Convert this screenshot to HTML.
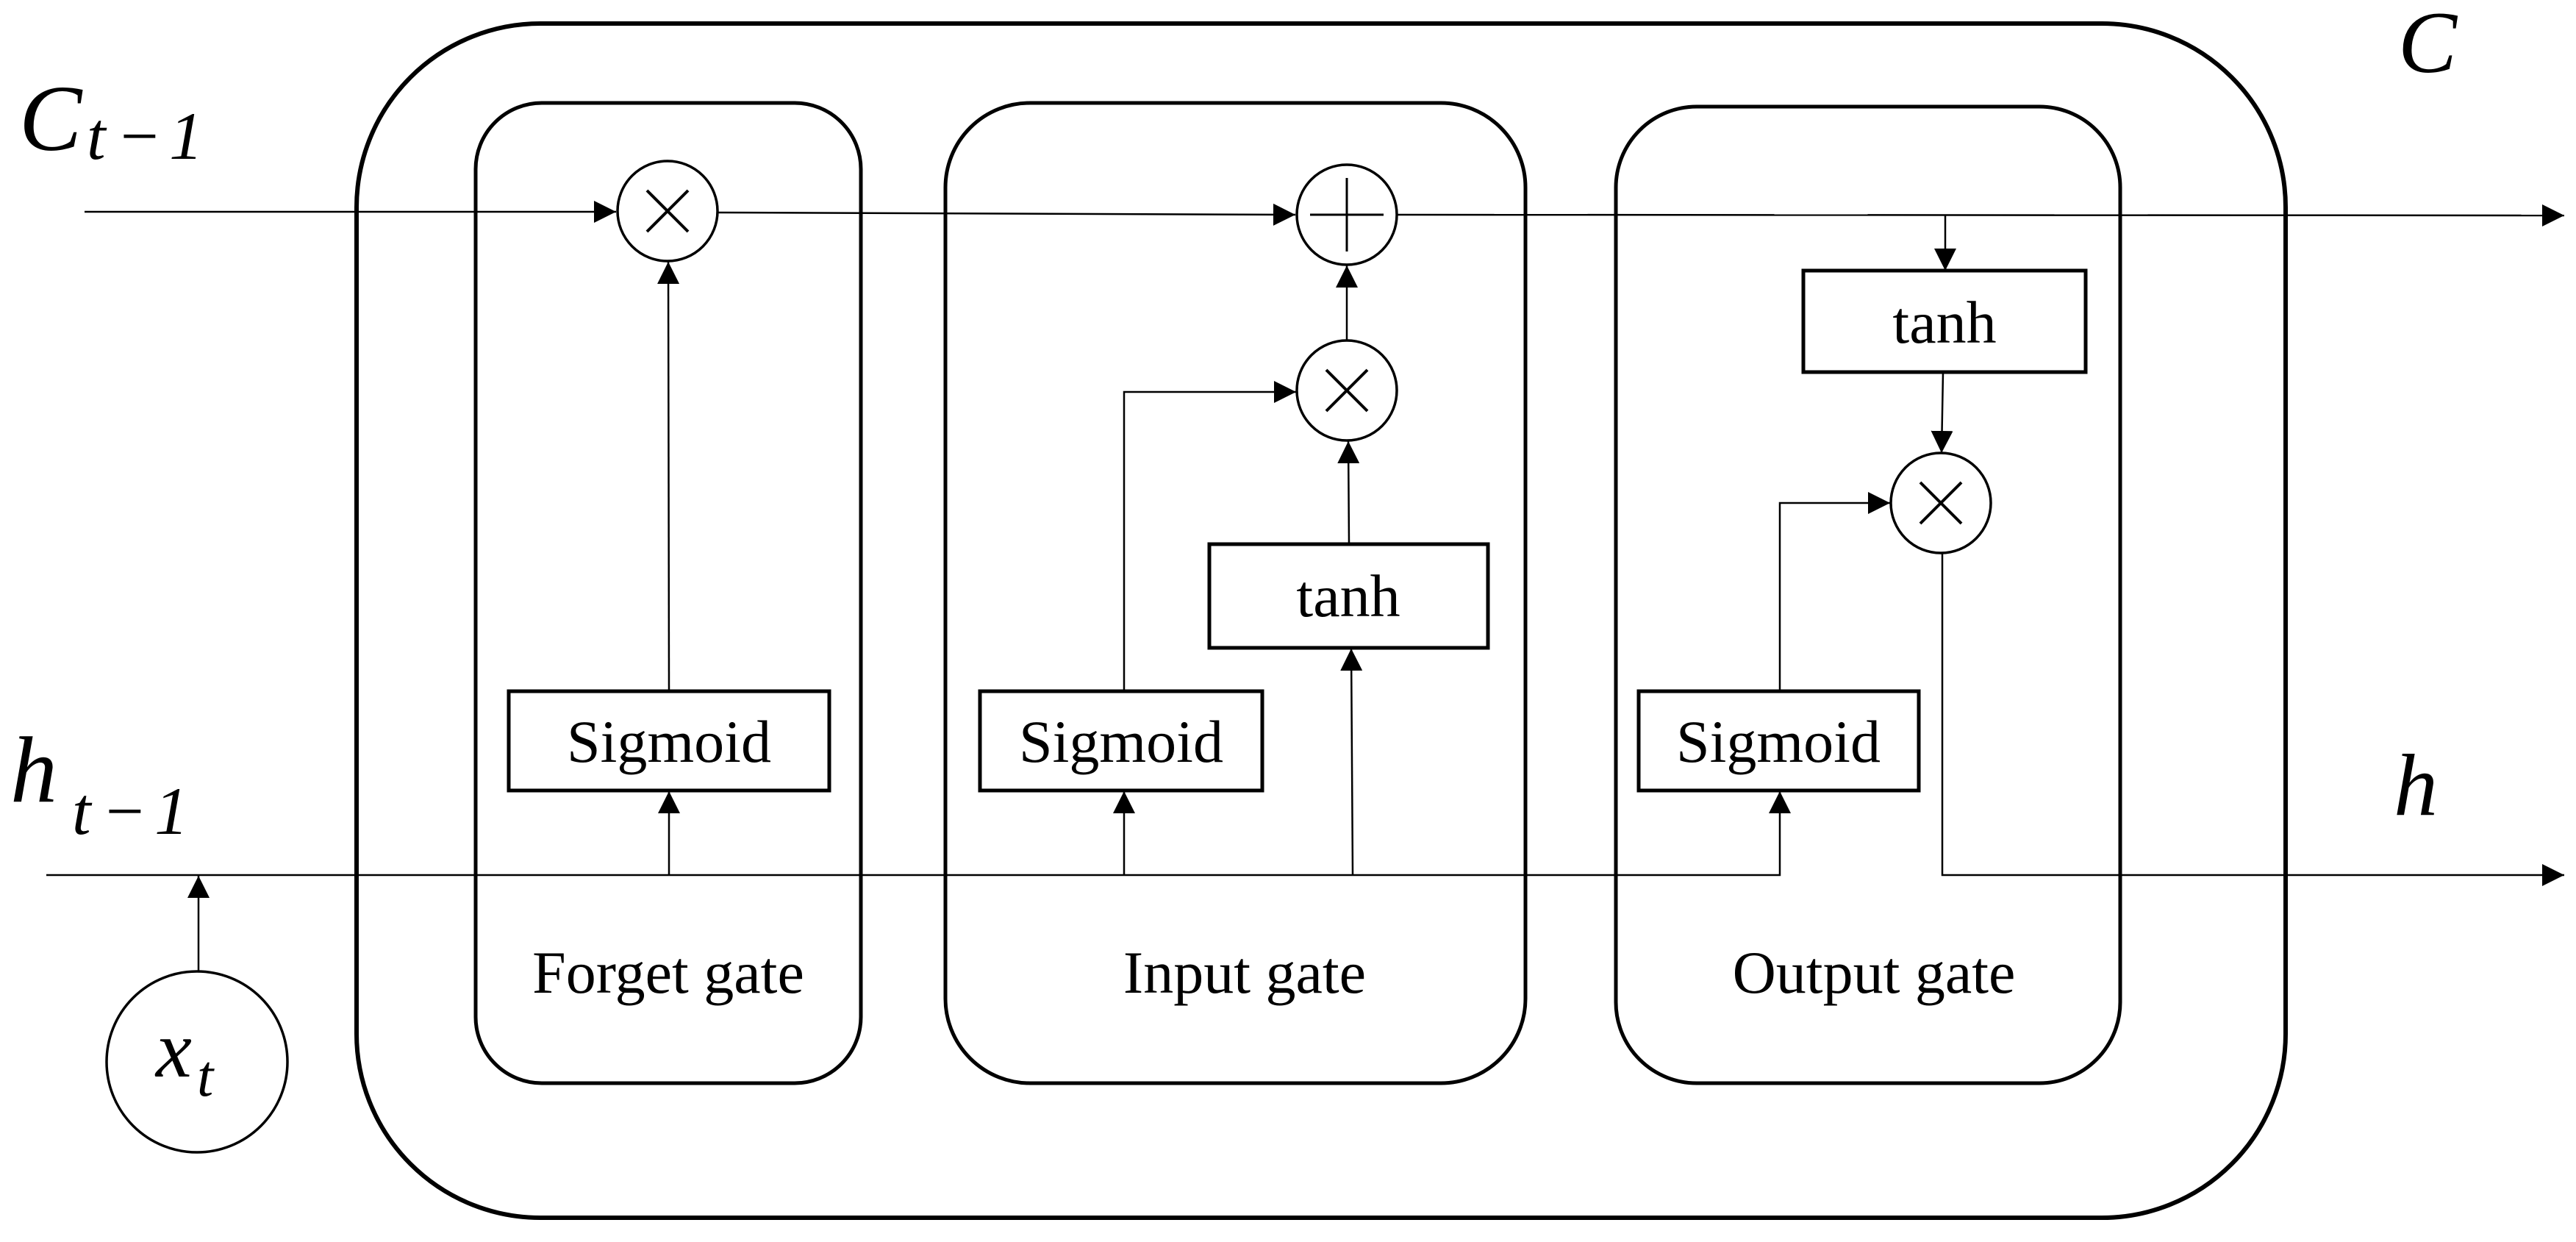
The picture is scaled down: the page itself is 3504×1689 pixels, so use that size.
<!DOCTYPE html>
<html><head><meta charset="utf-8"><style>
html,body{margin:0;padding:0;background:#fff;}
svg{display:block;}
.t{font-family:"Liberation Serif",serif;font-size:82px;fill:#000;}
.m{font-family:"Liberation Serif",serif;font-style:italic;fill:#000;}
</style></head><body>
<svg width="3504" height="1689" viewBox="0 0 3504 1689" xmlns="http://www.w3.org/2000/svg">
<defs>
<marker id="a" viewBox="0 0 10 10" refX="10" refY="5" markerWidth="30" markerHeight="30" markerUnits="userSpaceOnUse" orient="auto">
<path d="M0,0 L10,5 L0,10 z" fill="#000"/></marker>
</defs>
<g fill="none" stroke="#000">
<rect x="485" y="32" width="2624" height="1624" rx="250" ry="250" stroke-width="6"/>
<rect x="647" y="140" width="524" height="1333" rx="90" ry="90" stroke-width="5"/>
<rect x="1286" y="140" width="789" height="1333" rx="115" ry="115" stroke-width="5"/>
<rect x="2198" y="145" width="686" height="1328" rx="110" ry="110" stroke-width="5"/>
<rect x="692" y="940" width="436" height="135" stroke-width="5"/>
<rect x="1333" y="940" width="384" height="135" stroke-width="5"/>
<rect x="1645" y="740" width="379" height="141" stroke-width="5"/>
<rect x="2229" y="940" width="381" height="135" stroke-width="5"/>
<rect x="2453" y="368" width="384" height="138" stroke-width="5"/>
<circle cx="908" cy="287" r="68" stroke-width="3.5"/>
<circle cx="1832" cy="292" r="68" stroke-width="3.5"/>
<circle cx="1832" cy="531" r="68" stroke-width="3.5"/>
<circle cx="2640" cy="684" r="68" stroke-width="3.5"/>
<circle cx="268" cy="1444" r="123" stroke-width="3.5"/>
<path d="M880,259 L936,315 M936,259 L880,315" stroke-width="4"/>
<path d="M1804,503 L1860,559 M1860,503 L1804,559" stroke-width="4"/>
<path d="M2612,656 L2668,712 M2668,656 L2612,712" stroke-width="4"/>
<path d="M1782,292 L1882,292 M1832,242 L1832,342" stroke-width="3"/>
<g stroke-width="2.5">
<line x1="115" y1="288" x2="838" y2="288" marker-end="url(#a)"/>
<line x1="977" y1="289" x2="1762" y2="292" marker-end="url(#a)"/>
<line x1="1900" y1="292" x2="3488" y2="293" marker-end="url(#a)"/>
<line x1="2646" y1="292" x2="2646" y2="368" marker-end="url(#a)"/>
<line x1="2643" y1="506" x2="2641" y2="616" marker-end="url(#a)"/>
<line x1="910" y1="940" x2="909" y2="356" marker-end="url(#a)"/>
<line x1="1832" y1="463" x2="1832" y2="361" marker-end="url(#a)"/>
<line x1="1835" y1="740" x2="1834" y2="600" marker-end="url(#a)"/>
<polyline points="1529,940 1529,533 1763,533" marker-end="url(#a)"/>
<polyline points="2421,940 2421,684 2571,684" marker-end="url(#a)"/>
<polyline points="2642,752 2642,1190 3488,1190" marker-end="url(#a)"/>
<polyline points="63,1190 2421,1190 2421,1076" marker-end="url(#a)"/>
<line x1="910" y1="1190" x2="910" y2="1076" marker-end="url(#a)"/>
<line x1="1529" y1="1190" x2="1529" y2="1076" marker-end="url(#a)"/>
<line x1="1840" y1="1190" x2="1838" y2="882" marker-end="url(#a)"/>
<line x1="270" y1="1321" x2="270" y2="1191" marker-end="url(#a)"/>
</g>
</g>
<text class="t" x="910" y="1036" text-anchor="middle">Sigmoid</text>
<text class="t" x="1525" y="1036" text-anchor="middle">Sigmoid</text>
<text class="t" x="2419" y="1036" text-anchor="middle">Sigmoid</text>
<text class="t" x="1834" y="838" text-anchor="middle">tanh</text>
<text class="t" x="2645" y="466" text-anchor="middle">tanh</text>
<text class="t" x="909" y="1350" text-anchor="middle">Forget gate</text>
<text class="t" x="1693" y="1350" text-anchor="middle">Input gate</text>
<text class="t" x="2549" y="1350" text-anchor="middle">Output gate</text>
<text class="m" x="26" y="204" font-size="128">C</text>
<text class="m" x="118" y="216" font-size="92" letter-spacing="8">t</text>
<text class="m" x="158" y="216" font-size="92" font-style="normal" letter-spacing="10">−1</text>
<text class="m" x="14" y="1090" font-size="128">h</text>
<text class="m" x="98" y="1134" font-size="92">t</text>
<text class="m" x="138" y="1134" font-size="92" font-style="normal" letter-spacing="10">−1</text>
<text class="m" x="3262" y="98" font-size="120">C</text>
<text class="m" x="3256" y="1108" font-size="120">h</text>
<text class="m" x="212" y="1464" font-size="110">x</text>
<text class="m" x="268" y="1490" font-size="80">t</text>
</svg>
</body></html>
